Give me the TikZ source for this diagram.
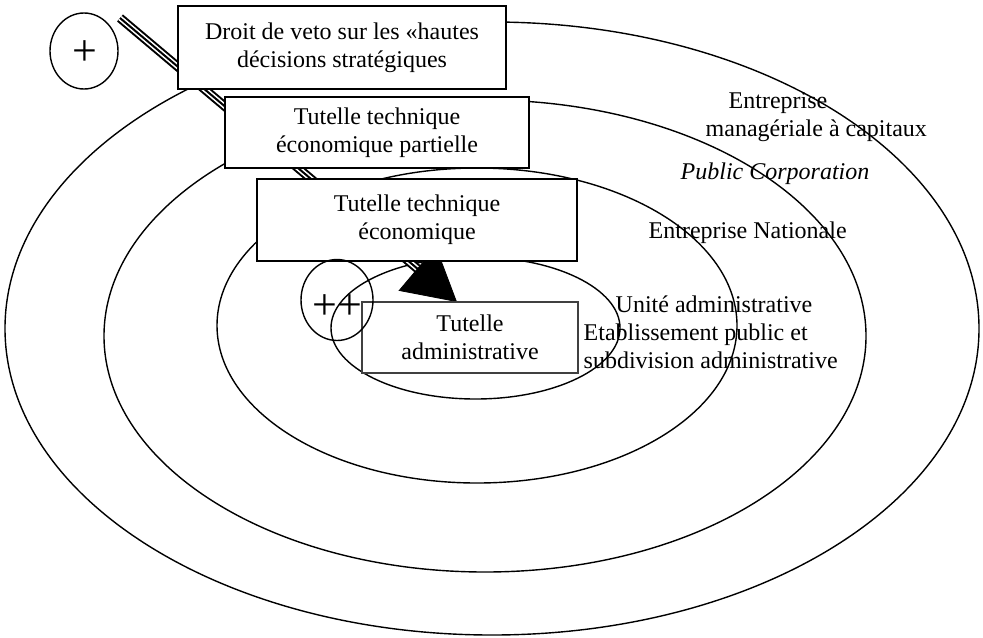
\documentclass[tikz,border=0pt]{standalone}
\usepackage{fontspec}
\setmainfont{Liberation Serif}
\usetikzlibrary{arrows.meta,calc,shapes.geometric}
\begin{document}
\begin{tikzpicture}[x=0.5pt,y=-0.5pt,line width=0.7pt,
  boxnode/.style={draw,fill=white,align=center,inner sep=0pt,font=\fontsize{12}{14}\selectfont},
  ringnode/.style={draw,ellipse,inner sep=0pt},
  bigplus/.style={inner sep=0pt,font=\fontsize{22}{24}\selectfont},
  lbl/.style={anchor=base west,inner sep=0pt,font=\fontsize{12}{14}\selectfont}]
\useasboundingbox (0,0) rectangle (983,637);
% concentric ellipses
\draw (492,328.5) ellipse [x radius=487, y radius=306.5];
\draw (485,336) ellipse [x radius=381, y radius=236];
\draw (477,325.5) ellipse [x radius=260, y radius=157.5];
\draw (475.5,328) ellipse [x radius=144.5, y radius=71];
% plus circle
\node[ringnode,minimum width=34pt,minimum height=38pt] (plus1) at (84,51) {};
\node[bigplus] (plus1t) at (85,53) {+};
\coordinate (as) at (120,18);
\coordinate (tip) at (457,302);
% triple line arrow
\draw[line width=4.6pt,shorten >=24pt] (as) -- (tip);
\draw[line width=2.6pt,white,shorten >=24pt] (as) -- (tip);
\draw[line width=1pt,shorten >=24pt] (as) -- (tip);
\draw[line width=0.4pt,-{Triangle[length=26pt,width=29pt]}] ($(as)!0.85!(tip)$) -- (tip);
% boxes
\node[boxnode,minimum width=164pt,minimum height=41.5pt] (b1) at (342,47.5)
  {Droit de veto sur les «hautes\\décisions stratégiques};
\node[boxnode,minimum width=152pt,minimum height=35.5pt] (b2) at (377,132.5)
  {Tutelle technique\\économique partielle};
\node[boxnode,minimum width=160pt,minimum height=41pt] (b3) at (417,220)
  {Tutelle technique\\économique};
\node[boxnode,draw=black!75,minimum width=108pt,minimum height=35.5pt] (b4) at (470,337.5)
  {Tutelle\\administrative};
% double plus circle
\node[ringnode,minimum width=36pt,minimum height=40.5pt] (plus2) at (337,300) {};
\node[bigplus] (plus2t) at (337,307) {++};
% labels
\node[lbl] (l1a) at (728,108) {Entreprise};
\node[lbl] (l1b) at (705,136) {managériale à capitaux};
\node[lbl,font=\fontsize{12}{14}\selectfont\itshape] (l2) at (680,179) {Public Corporation};
\node[lbl] (l3) at (648,238) {Entreprise Nationale};
\node[lbl] (l4a) at (615,312) {Unité administrative};
\node[lbl] (l4b) at (583,340) {Etablissement public et};
\node[lbl] (l4c) at (583,368) {subdivision administrative};
\end{tikzpicture}
\end{document}
